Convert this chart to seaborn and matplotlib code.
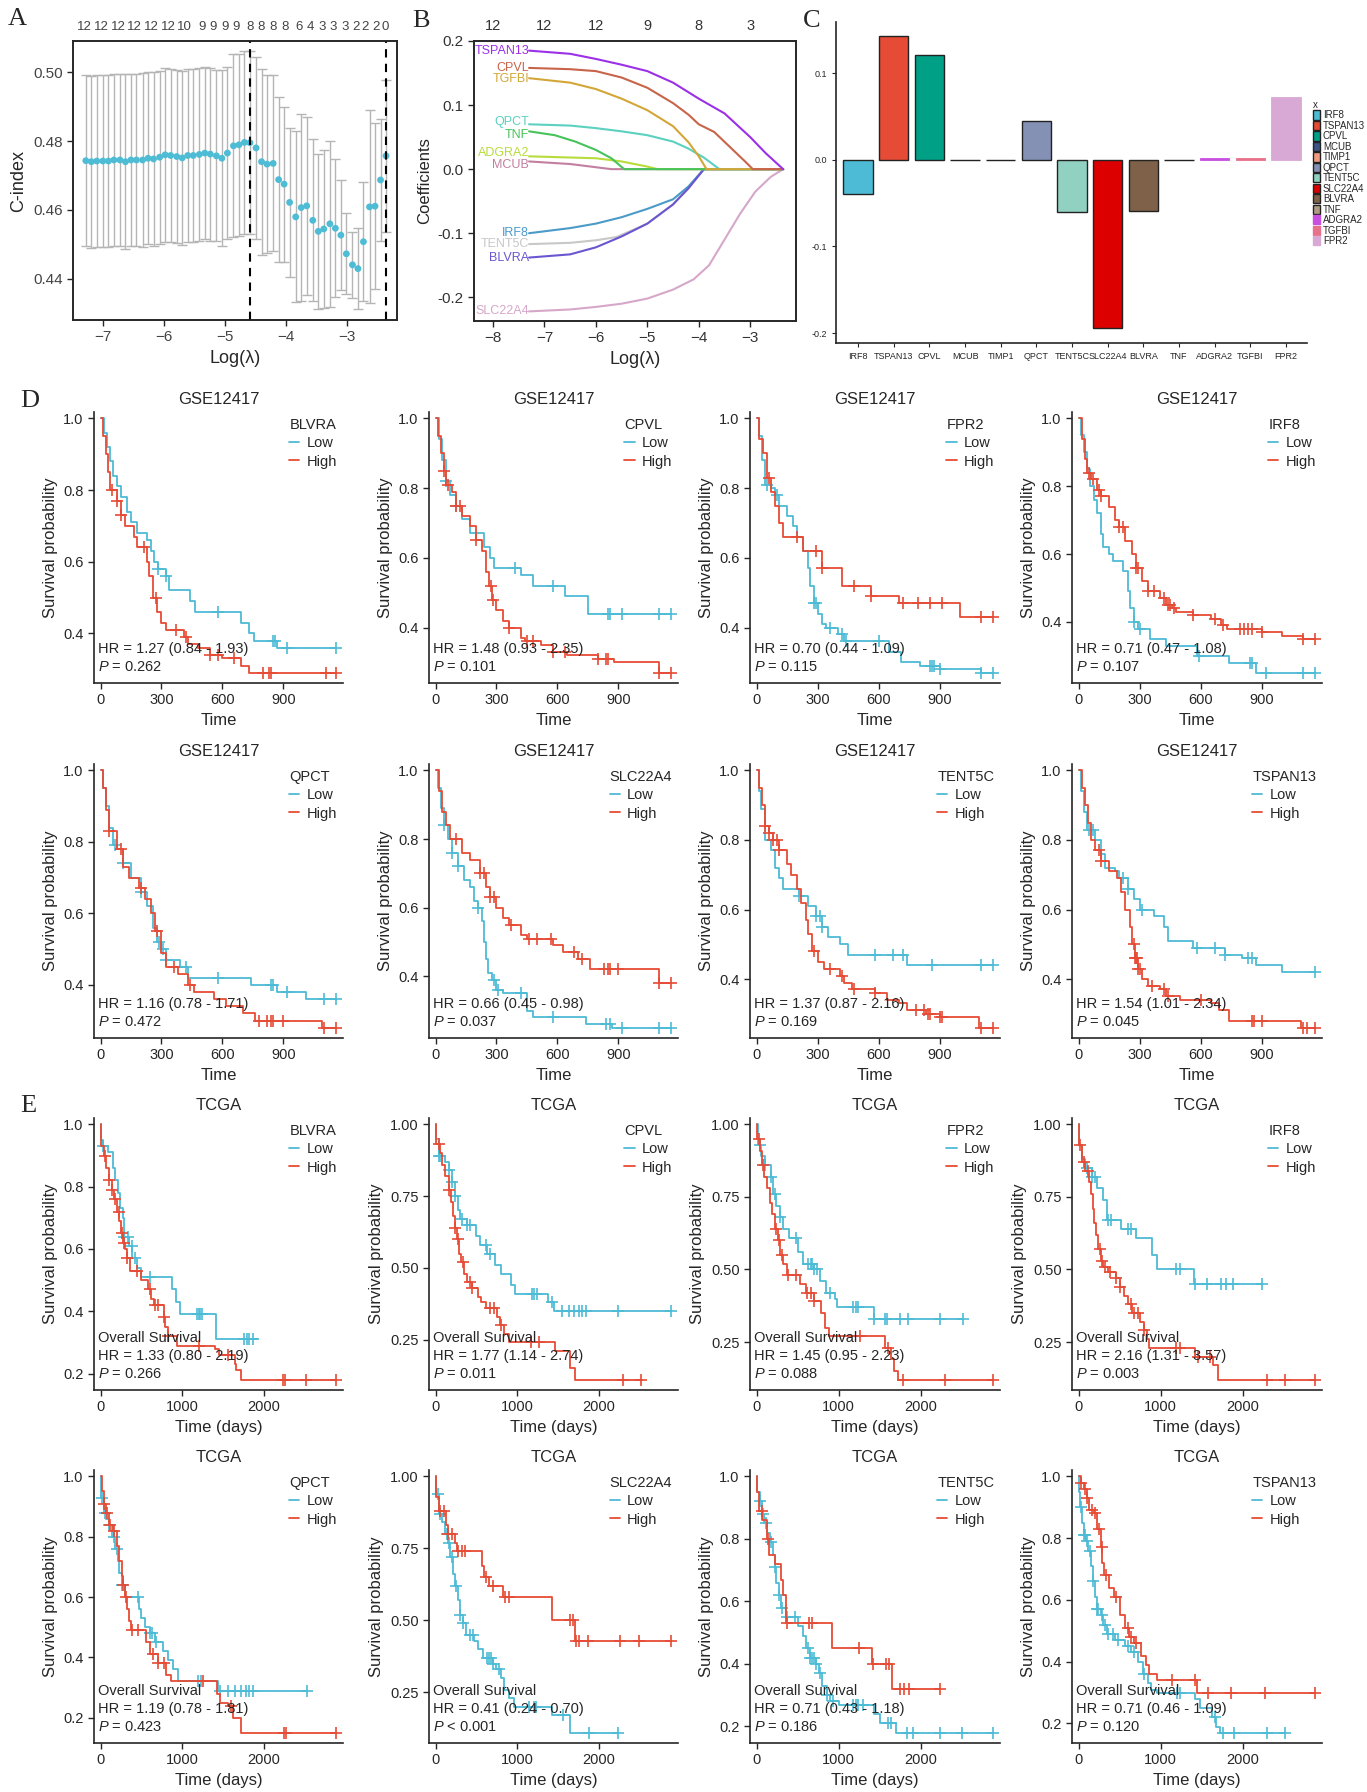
import matplotlib
matplotlib.use("Agg")
import matplotlib.pyplot as plt
import seaborn as sns
import numpy as np
import pandas as pd

# ---------------- panel A: cross-validated C-index ----------------
cv_loglam = [-7.28, -7.19, -7.10, -7.00, -6.91, -6.82, -6.72, -6.63, -6.54, -6.45,
             -6.35, -6.26, -6.17, -6.07, -5.98, -5.89, -5.79, -5.70, -5.61, -5.52,
             -5.42, -5.33, -5.24, -5.14, -5.05, -4.96, -4.86, -4.77, -4.68, -4.59,
             -4.49, -4.40, -4.31, -4.21, -4.12, -4.03, -3.94, -3.84, -3.75, -3.66,
             -3.56, -3.47, -3.38, -3.28, -3.19, -3.10, -3.01, -2.91, -2.82, -2.73,
             -2.63, -2.54, -2.45, -2.36]
cv_cindex = [0.4743, 0.4740, 0.4742, 0.4742, 0.4742, 0.4745, 0.4745, 0.4740, 0.4745, 0.4745,
             0.4745, 0.4750, 0.4748, 0.4753, 0.4760, 0.4758, 0.4755, 0.4751, 0.4758, 0.4758,
             0.4761, 0.4765, 0.4762, 0.4757, 0.4750, 0.4765, 0.4786, 0.4789, 0.4796, 0.4795,
             0.4780, 0.4740, 0.4733, 0.4735, 0.4688, 0.4675, 0.4622, 0.4580, 0.4607, 0.4612,
             0.4570, 0.4538, 0.4545, 0.4560, 0.4547, 0.4527, 0.4473, 0.4441, 0.4430, 0.4508,
             0.4609, 0.4611, 0.4687, 0.4757]
cv_se = [0.0248, 0.0249, 0.0248, 0.0248, 0.0248, 0.0249, 0.0250, 0.0253, 0.0250, 0.0250,
         0.0252, 0.0250, 0.0251, 0.0251, 0.0252, 0.0251, 0.0251, 0.0252, 0.0252, 0.0250,
         0.0250, 0.0250, 0.0251, 0.0248, 0.0255, 0.0250, 0.0265, 0.0263, 0.0265, 0.0265,
         0.0265, 0.0270, 0.0258, 0.0255, 0.0240, 0.0225, 0.0215, 0.0248, 0.0270, 0.0258,
         0.0235, 0.0225, 0.0230, 0.0240, 0.0200, 0.0160, 0.0118, 0.0095, 0.0118, 0.0173,
         0.0280, 0.0240, 0.0178, 0.0220]
lam_min, lam_1se = -4.59, -2.36
top_counts = ["12", "12", "12", "12", "12", "12", "10", "9", "9", "9", "9", "8", "8", "8", "8",
              "6", "4", "3", "3", "3", "2", "2", "2", "0"]
top_count_pos = [-7.30, -7.03, -6.75, -6.48, -6.21, -5.93, -5.66, -5.38, -5.19, -5.00, -4.81,
                 -4.59, -4.40, -4.21, -4.01, -3.79, -3.60, -3.41, -3.22, -3.03, -2.86, -2.70,
                 -2.53, -2.37]

# ---------------- panel B: coefficient paths ----------------
path_tspan13 = [(-7.3, 0.185), (-6.5, 0.180), (-6.0, 0.172), (-5.5, 0.163), (-5.0, 0.153),
                (-4.5, 0.135), (-4.0, 0.110), (-3.5, 0.087), (-3.0, 0.050), (-2.7, 0.025), (-2.36, 0.0)]
path_cpvl = [(-7.3, 0.158), (-6.5, 0.156), (-6.0, 0.153), (-5.5, 0.143), (-5.0, 0.127), (-4.5, 0.103),
             (-4.2, 0.085), (-4.0, 0.070), (-3.7, 0.058), (-3.4, 0.035), (-3.1, 0.012), (-2.95, 0.0), (-2.36, 0.0)]
path_tgfbi = [(-7.3, 0.142), (-6.5, 0.135), (-6.0, 0.125), (-5.5, 0.110), (-5.0, 0.092), (-4.5, 0.067),
              (-4.2, 0.042), (-4.0, 0.020), (-3.85, 0.0), (-2.36, 0.0)]
path_qpct = [(-7.3, 0.070), (-6.5, 0.068), (-6.0, 0.064), (-5.5, 0.059), (-5.0, 0.053), (-4.5, 0.043),
             (-4.2, 0.032), (-3.9, 0.018), (-3.6, 0.0), (-2.36, 0.0)]
path_tnf = [(-7.3, 0.059), (-6.8, 0.053), (-6.4, 0.043), (-6.0, 0.030), (-5.7, 0.017), (-5.45, 0.0), (-2.36, 0.0)]
path_adgra2 = [(-7.3, 0.020), (-6.0, 0.017), (-5.5, 0.012), (-5.0, 0.004), (-4.8, 0.0), (-2.36, 0.0)]
path_mcub = [(-7.3, 0.012), (-6.5, 0.008), (-6.0, 0.003), (-5.7, 0.0), (-2.36, 0.0)]
path_irf8 = [(-7.3, -0.100), (-6.5, -0.092), (-6.0, -0.085), (-5.5, -0.075), (-5.0, -0.062), (-4.5, -0.047),
             (-4.2, -0.027), (-3.9, 0.0), (-2.36, 0.0)]
path_tent5c = [(-7.3, -0.117), (-6.5, -0.115), (-6.0, -0.111), (-5.6, -0.106), (-5.0, -0.085), (-4.5, -0.055),
               (-3.9, 0.0), (-2.36, 0.0)]
path_blvra = [(-7.3, -0.138), (-6.5, -0.133), (-6.0, -0.122), (-5.5, -0.105), (-5.0, -0.085), (-4.5, -0.055),
              (-4.2, -0.030), (-3.9, 0.0), (-2.36, 0.0)]
path_slc22a4 = [(-7.3, -0.222), (-6.5, -0.219), (-6.0, -0.215), (-5.5, -0.210), (-5.0, -0.202), (-4.5, -0.188),
                (-4.1, -0.172), (-3.8, -0.150), (-3.5, -0.110), (-3.2, -0.070), (-2.9, -0.035), (-2.6, -0.012),
                (-2.36, 0.0)]
path_genes = ["SLC22A4", "TENT5C", "IRF8", "BLVRA", "MCUB", "ADGRA2", "TNF", "QPCT", "TGFBI", "CPVL", "TSPAN13"]
path_colors = ["#d6a7c9", "#c8c8c8", "#4b9ac8", "#6b55d0", "#c27fa0", "#b8dc3c", "#46c35a", "#5bd1c0",
               "#d4a638", "#c8644a", "#9b30e6"]
# small vertical nudges so crowded labels stay readable
path_label_nudge = {"QPCT": 0.004, "TNF": -0.005, "ADGRA2": 0.005, "MCUB": -0.006, "TGFBI": -0.002}
path_top_pos = [-8, -7, -6, -5, -4, -3]
path_top_lab = ["12", "12", "12", "9", "8", "3"]

# ---------------- panel C: coefficients ----------------
genes_c = ["IRF8", "TSPAN13", "CPVL", "MCUB", "TIMP1", "QPCT", "TENT5C", "SLC22A4", "BLVRA", "TNF",
           "ADGRA2", "TGFBI", "FPR2"]
coef_c = [-0.040, 0.143, 0.121, 0.0, 0.0, 0.045, -0.060, -0.194, -0.059, 0.0, 0.0015, 0.0015, 0.073]
colors_c = ["#4DBBD5", "#E64B35", "#00A087", "#3C5488", "#F39B7F", "#8491B4", "#91D1C2", "#DC0000",
            "#7E6148", "#B09C85", "#C84FE0", "#E8708A", "#D9A9D6"]

# ---------------- panel D: GSE12417 KM curves (time, survival) ----------------
gse_blvra_low = [(0, 1.0), (15, 0.96), (30, 0.92), (45, 0.88), (60, 0.84), (80, 0.81), (100, 0.78), (130, 0.74),
                 (150, 0.71), (180, 0.68), (230, 0.66), (250, 0.63), (265, 0.60), (285, 0.58), (320, 0.56),
                 (335, 0.52), (440, 0.49), (465, 0.46), (690, 0.43), (730, 0.40), (755, 0.38), (870, 0.36),
                 (1160, 0.36)]
gse_blvra_low_c = [285, 320, 580, 850, 860, 920, 1160]
gse_blvra_high = [(0, 1.0), (10, 0.95), (25, 0.90), (35, 0.85), (45, 0.80), (80, 0.77), (100, 0.73), (120, 0.70),
                  (165, 0.67), (180, 0.64), (230, 0.60), (240, 0.56), (260, 0.50), (280, 0.46), (300, 0.43),
                  (320, 0.41), (410, 0.39), (430, 0.37), (480, 0.36), (540, 0.34), (600, 0.33), (690, 0.31),
                  (730, 0.29), (1160, 0.29)]
gse_blvra_high_c = [55, 80, 100, 215, 275, 370, 420, 540, 580, 660, 800, 830, 840, 1110, 1160]

gse_cpvl_low = [(0, 1.0), (15, 0.94), (30, 0.88), (50, 0.82), (70, 0.78), (100, 0.75), (130, 0.71), (170, 0.67),
                (240, 0.63), (270, 0.60), (290, 0.57), (420, 0.55), (480, 0.52), (640, 0.49), (750, 0.44),
                (1160, 0.44)]
gse_cpvl_low_c = [50, 100, 390, 580, 850, 860, 920, 1100, 1160]
gse_cpvl_high = [(0, 1.0), (10, 0.95), (25, 0.90), (40, 0.85), (50, 0.81), (80, 0.79), (100, 0.75), (130, 0.72),
                 (170, 0.69), (200, 0.65), (230, 0.62), (250, 0.56), (265, 0.52), (280, 0.48), (300, 0.45),
                 (330, 0.42), (360, 0.40), (420, 0.37), (440, 0.36), (520, 0.35), (580, 0.33), (650, 0.32),
                 (800, 0.31), (880, 0.30), (1100, 0.27), (1160, 0.27)]
gse_cpvl_high_c = [40, 60, 100, 120, 200, 275, 285, 360, 450, 480, 580, 640, 800, 840, 850, 1100, 1160]

gse_fpr2_low = [(0, 1.0), (10, 0.95), (25, 0.88), (40, 0.81), (70, 0.80), (90, 0.78), (110, 0.75), (150, 0.72),
                (180, 0.69), (200, 0.66), (230, 0.62), (250, 0.57), (260, 0.52), (280, 0.47), (300, 0.44),
                (320, 0.41), (340, 0.40), (400, 0.38), (430, 0.36), (650, 0.33), (710, 0.30), (800, 0.29),
                (900, 0.28), (1100, 0.27), (1160, 0.27)]
gse_fpr2_low_c = [50, 100, 280, 290, 360, 420, 440, 600, 850, 860, 870, 900, 1100, 1160]
gse_fpr2_high = [(0, 1.0), (10, 0.94), (30, 0.90), (50, 0.83), (70, 0.79), (90, 0.75), (110, 0.70), (130, 0.66),
                 (230, 0.62), (320, 0.57), (420, 0.52), (560, 0.49), (700, 0.47), (1000, 0.43), (1160, 0.43)]
gse_fpr2_high_c = [60, 200, 290, 320, 480, 560, 720, 790, 850, 910, 1100, 1160]

gse_irf8_low = [(0, 1.0), (10, 0.95), (25, 0.90), (40, 0.85), (55, 0.80), (75, 0.76), (90, 0.72), (110, 0.66),
                (120, 0.62), (150, 0.60), (170, 0.58), (220, 0.55), (240, 0.49), (250, 0.44), (270, 0.40),
                (290, 0.38), (350, 0.35), (430, 0.33), (580, 0.30), (740, 0.28), (870, 0.25), (1160, 0.25)]
gse_irf8_low_c = [270, 300, 590, 840, 850, 920, 1100, 1160]
gse_irf8_high = [(0, 1.0), (15, 0.94), (30, 0.88), (40, 0.84), (60, 0.82), (90, 0.79), (110, 0.77), (150, 0.74),
                 (180, 0.70), (200, 0.68), (230, 0.64), (260, 0.60), (280, 0.56), (310, 0.52), (340, 0.49),
                 (400, 0.47), (430, 0.45), (460, 0.44), (480, 0.43), (560, 0.42), (650, 0.41), (700, 0.39),
                 (730, 0.38), (900, 0.37), (1000, 0.36), (1100, 0.35), (1160, 0.35)]
gse_irf8_high_c = [50, 70, 100, 110, 200, 220, 280, 290, 340, 370, 420, 440, 450, 470, 560, 670, 710, 790, 810,
                   830, 850, 900, 1100, 1160]

gse_qpct_low = [(0, 1.0), (10, 0.95), (25, 0.90), (40, 0.84), (60, 0.79), (80, 0.78), (110, 0.74), (150, 0.70),
                (200, 0.66), (230, 0.62), (260, 0.56), (280, 0.52), (300, 0.50), (320, 0.47), (390, 0.45),
                (430, 0.42), (740, 0.40), (870, 0.38), (1010, 0.36), (1160, 0.36)]
gse_qpct_low_c = [70, 110, 200, 290, 310, 320, 420, 580, 840, 850, 920, 1100, 1160]
gse_qpct_high = [(0, 1.0), (10, 0.95), (25, 0.89), (40, 0.83), (80, 0.78), (110, 0.73), (140, 0.70), (190, 0.67),
                 (220, 0.64), (250, 0.60), (270, 0.55), (300, 0.49), (320, 0.45), (380, 0.43), (430, 0.40),
                 (460, 0.38), (560, 0.36), (620, 0.34), (700, 0.32), (760, 0.30), (1090, 0.28), (1160, 0.28)]
gse_qpct_high_c = [40, 100, 200, 280, 360, 440, 780, 820, 840, 850, 900, 1100, 1160]

gse_slc22a4_low = [(0, 1.0), (10, 0.95), (25, 0.89), (40, 0.84), (60, 0.80), (80, 0.76), (110, 0.72), (140, 0.68),
                   (170, 0.66), (190, 0.62), (210, 0.60), (230, 0.56), (240, 0.50), (250, 0.45), (260, 0.41),
                   (280, 0.39), (300, 0.36), (330, 0.35), (450, 0.30), (480, 0.28), (740, 0.26), (870, 0.25),
                   (1160, 0.25)]
gse_slc22a4_low_c = [40, 80, 110, 210, 290, 310, 420, 580, 840, 860, 920, 1100, 1160]
gse_slc22a4_high = [(0, 1.0), (15, 0.94), (30, 0.88), (50, 0.84), (70, 0.80), (130, 0.76), (170, 0.74),
                    (220, 0.70), (250, 0.66), (270, 0.63), (300, 0.60), (330, 0.57), (360, 0.55), (420, 0.52),
                    (450, 0.51), (580, 0.49), (630, 0.47), (700, 0.45), (760, 0.42), (1100, 0.38), (1160, 0.38)]
gse_slc22a4_high_c = [100, 220, 240, 270, 290, 370, 460, 500, 570, 680, 720, 830, 850, 860, 900, 1100, 1160]

gse_tent5c_low = [(0, 1.0), (10, 0.94), (20, 0.89), (40, 0.80), (70, 0.77), (90, 0.72), (110, 0.69), (130, 0.66),
                  (210, 0.64), (250, 0.61), (290, 0.58), (320, 0.55), (350, 0.52), (410, 0.50), (450, 0.47),
                  (740, 0.44), (1160, 0.44)]
gse_tent5c_low_c = [210, 290, 310, 320, 580, 670, 720, 860, 1100, 1160]
gse_tent5c_high = [(0, 1.0), (10, 0.95), (25, 0.90), (40, 0.84), (60, 0.82), (80, 0.80), (110, 0.77), (150, 0.73),
                   (170, 0.70), (200, 0.66), (220, 0.62), (240, 0.57), (250, 0.53), (270, 0.48), (300, 0.45),
                   (330, 0.43), (410, 0.41), (430, 0.39), (470, 0.37), (580, 0.36), (640, 0.34), (700, 0.33),
                   (740, 0.31), (830, 0.30), (900, 0.29), (1090, 0.26), (1160, 0.26)]
gse_tent5c_high_c = [40, 60, 80, 100, 110, 280, 360, 420, 480, 580, 780, 820, 840, 850, 900, 910, 1100, 1160]

gse_tspan13_low = [(0, 1.0), (10, 0.94), (25, 0.88), (40, 0.83), (80, 0.80), (110, 0.76), (130, 0.72),
                   (180, 0.71), (200, 0.69), (240, 0.66), (270, 0.63), (300, 0.60), (370, 0.58), (420, 0.55),
                   (440, 0.51), (560, 0.49), (720, 0.47), (800, 0.46), (870, 0.44), (1000, 0.42), (1160, 0.42)]
gse_tspan13_low_c = [50, 70, 220, 240, 310, 580, 670, 720, 830, 850, 1160]
gse_tspan13_high = [(0, 1.0), (15, 0.95), (30, 0.90), (45, 0.85), (60, 0.80), (80, 0.77), (110, 0.74),
                    (150, 0.71), (190, 0.69), (210, 0.65), (230, 0.60), (250, 0.55), (260, 0.50), (275, 0.46),
                    (290, 0.43), (310, 0.40), (340, 0.38), (400, 0.37), (430, 0.35), (500, 0.34), (650, 0.33),
                    (690, 0.31), (740, 0.28), (1090, 0.26), (1160, 0.26)]
gse_tspan13_high_c = [100, 110, 270, 275, 280, 285, 290, 300, 360, 420, 440, 600, 850, 860, 900, 1100, 1120, 1160]

# ---------------- panel E: TCGA KM curves (time, survival) ----------------
tcga_blvra_low = [(0, 1.0), (10, 0.95), (30, 0.93), (90, 0.91), (150, 0.86), (180, 0.82), (210, 0.78),
                  (240, 0.73), (270, 0.70), (290, 0.64), (350, 0.61), (390, 0.57), (450, 0.54), (500, 0.51),
                  (870, 0.47), (920, 0.43), (970, 0.39), (1410, 0.31), (1920, 0.31)]
tcga_blvra_low_c = [30, 290, 340, 380, 420, 600, 1180, 1200, 1220, 1240, 1750, 1790, 1820, 1860]
tcga_blvra_high = [(0, 1.0), (10, 0.93), (40, 0.90), (70, 0.86), (100, 0.82), (140, 0.79), (170, 0.76),
                   (200, 0.72), (230, 0.69), (250, 0.65), (280, 0.62), (300, 0.60), (320, 0.57), (360, 0.53),
                   (500, 0.50), (580, 0.47), (620, 0.44), (650, 0.42), (770, 0.38), (790, 0.35), (830, 0.32),
                   (930, 0.29), (1400, 0.28), (1450, 0.26), (1640, 0.23), (1660, 0.21), (1720, 0.18), (2880, 0.18)]
tcga_blvra_high_c = [50, 100, 140, 180, 220, 260, 290, 320, 450, 610, 660, 700, 770, 830, 1210, 1560, 2230,
                     2260, 2510, 2880]

tcga_cpvl_low = [(0, 1.0), (10, 0.95), (40, 0.89), (110, 0.87), (160, 0.84), (200, 0.80), (240, 0.75),
                 (280, 0.70), (300, 0.67), (380, 0.65), (500, 0.61), (540, 0.58), (630, 0.55), (730, 0.51),
                 (800, 0.48), (920, 0.44), (970, 0.41), (1380, 0.38), (1450, 0.35), (2880, 0.35)]
tcga_cpvl_low_c = [40, 60, 160, 200, 240, 320, 380, 420, 620, 660, 1180, 1210, 1240, 1420, 1550, 1630, 1690,
                   1750, 1790, 1840, 2230, 2880]
tcga_cpvl_high = [(0, 1.0), (10, 0.93), (50, 0.90), (80, 0.86), (120, 0.82), (160, 0.77), (190, 0.73),
                  (210, 0.68), (240, 0.64), (260, 0.60), (290, 0.55), (310, 0.52), (350, 0.48), (380, 0.45),
                  (450, 0.43), (520, 0.40), (560, 0.38), (620, 0.36), (750, 0.33), (790, 0.30), (840, 0.27),
                  (900, 0.24), (1460, 0.21), (1640, 0.15), (1700, 0.11), (2520, 0.11)]
tcga_cpvl_high_c = [40, 160, 240, 270, 330, 420, 450, 660, 710, 800, 1170, 1260, 2290, 2510]

tcga_fpr2_low = [(0, 1.0), (20, 0.93), (50, 0.89), (100, 0.86), (170, 0.82), (200, 0.76), (240, 0.72),
                 (280, 0.68), (320, 0.64), (400, 0.61), (500, 0.56), (570, 0.52), (700, 0.50), (770, 0.46),
                 (850, 0.42), (950, 0.40), (980, 0.37), (1430, 0.33), (2520, 0.33)]
tcga_fpr2_low_c = [40, 100, 180, 220, 280, 480, 630, 660, 680, 700, 730, 900, 1180, 1210, 1230, 1430, 1570,
                   1590, 1750, 1850, 2230, 2510]
tcga_fpr2_high = [(0, 1.0), (10, 0.95), (40, 0.91), (60, 0.86), (90, 0.82), (130, 0.78), (160, 0.73),
                  (190, 0.69), (230, 0.64), (260, 0.60), (290, 0.55), (320, 0.52), (370, 0.48), (530, 0.45),
                  (600, 0.42), (700, 0.39), (780, 0.35), (830, 0.30), (880, 0.27), (1560, 0.23), (1640, 0.19),
                  (1680, 0.15), (1720, 0.12), (2880, 0.12)]
tcga_fpr2_high_c = [30, 80, 240, 270, 310, 380, 480, 620, 660, 700, 1260, 1600, 1780, 2290, 2880]

tcga_irf8_low = [(0, 1.0), (10, 0.93), (40, 0.88), (80, 0.85), (160, 0.82), (230, 0.78), (300, 0.74),
                 (340, 0.67), (520, 0.64), (700, 0.61), (900, 0.55), (960, 0.50), (1410, 0.45), (2230, 0.45)]
tcga_irf8_low_c = [100, 160, 200, 360, 400, 600, 640, 1190, 1240, 1420, 1560, 1740, 1800, 1880, 2230]
tcga_irf8_high = [(0, 1.0), (10, 0.93), (40, 0.87), (80, 0.84), (130, 0.80), (150, 0.76), (170, 0.71),
                  (190, 0.66), (210, 0.62), (240, 0.57), (270, 0.53), (300, 0.51), (360, 0.49), (450, 0.47),
                  (500, 0.44), (550, 0.41), (600, 0.38), (650, 0.35), (750, 0.32), (800, 0.29), (830, 0.26),
                  (860, 0.23), (1420, 0.20), (1640, 0.17), (1700, 0.12), (2880, 0.12)]
tcga_irf8_high_c = [20, 60, 120, 260, 280, 320, 380, 450, 500, 640, 680, 720, 800, 1190, 1240, 1450, 1600,
                    2290, 2510, 2880]

tcga_qpct_low = [(0, 1.0), (10, 0.93), (40, 0.88), (70, 0.86), (100, 0.84), (140, 0.80), (180, 0.76),
                 (210, 0.72), (230, 0.68), (260, 0.64), (300, 0.60), (470, 0.56), (500, 0.53), (540, 0.50),
                 (600, 0.48), (660, 0.45), (760, 0.42), (820, 0.39), (880, 0.36), (950, 0.32), (1440, 0.29),
                 (2520, 0.29)]
tcga_qpct_low_c = [20, 60, 100, 160, 200, 260, 460, 600, 630, 680, 1190, 1230, 1460, 1560, 1650, 1720, 1780,
                   1820, 1860, 2520]
tcga_qpct_high = [(0, 1.0), (20, 0.95), (40, 0.91), (70, 0.88), (100, 0.84), (150, 0.82), (200, 0.77),
                  (230, 0.72), (260, 0.67), (280, 0.64), (300, 0.60), (320, 0.56), (350, 0.52), (370, 0.49),
                  (560, 0.45), (600, 0.41), (700, 0.38), (800, 0.34), (860, 0.32), (1420, 0.28), (1460, 0.25),
                  (1560, 0.24), (1620, 0.20), (1720, 0.15), (2880, 0.15)]
tcga_qpct_high_c = [40, 80, 120, 170, 280, 310, 380, 460, 640, 700, 780, 1250, 1600, 2240, 2270, 2880]

tcga_slc22a4_low = [(0, 1.0), (10, 0.94), (40, 0.87), (80, 0.84), (120, 0.80), (150, 0.77), (180, 0.72),
                    (210, 0.66), (240, 0.62), (270, 0.57), (300, 0.52), (340, 0.49), (370, 0.45), (470, 0.43),
                    (520, 0.40), (580, 0.37), (700, 0.35), (740, 0.33), (800, 0.30), (840, 0.26), (900, 0.23),
                    (960, 0.20), (1430, 0.17), (1650, 0.11), (2230, 0.11)]
tcga_slc22a4_low_c = [30, 60, 140, 170, 200, 250, 300, 340, 420, 460, 630, 650, 680, 700, 780, 1140, 1200,
                      1230, 1560, 1880, 2230]
tcga_slc22a4_high = [(0, 1.0), (10, 0.93), (40, 0.88), (130, 0.83), (150, 0.80), (240, 0.77), (260, 0.74),
                     (570, 0.69), (590, 0.65), (650, 0.62), (820, 0.58), (1420, 0.50), (1700, 0.43), (2880, 0.43)]
tcga_slc22a4_high_c = [60, 100, 150, 200, 280, 320, 360, 620, 700, 850, 900, 1640, 1680, 1720, 1760, 1860,
                       2260, 2490, 2880]

tcga_tent5c_low = [(0, 1.0), (10, 0.95), (40, 0.92), (60, 0.88), (90, 0.85), (130, 0.82), (160, 0.79),
                   (200, 0.75), (220, 0.71), (240, 0.66), (270, 0.62), (300, 0.58), (360, 0.55), (500, 0.52),
                   (560, 0.49), (600, 0.45), (650, 0.42), (720, 0.40), (760, 0.37), (800, 0.33), (860, 0.30),
                   (900, 0.28), (1000, 0.27), (1430, 0.24), (1500, 0.21), (1700, 0.18), (2880, 0.18)]
tcga_tent5c_low_c = [40, 80, 120, 180, 220, 270, 310, 370, 470, 630, 650, 680, 700, 720, 770, 860, 930, 1170,
                     1210, 1240, 1300, 1600, 1640, 1830, 1900, 2240, 2500, 2880]
tcga_tent5c_high = [(0, 1.0), (10, 0.95), (30, 0.89), (70, 0.86), (130, 0.80), (150, 0.75), (230, 0.72),
                    (300, 0.67), (320, 0.62), (360, 0.53), (920, 0.45), (1405, 0.40), (1650, 0.32), (2230, 0.32)]
tcga_tent5c_high_c = [60, 140, 370, 640, 680, 1250, 1420, 1580, 1610, 1750, 1800, 1860, 2230]

tcga_tspan13_low = [(0, 1.0), (10, 0.95), (20, 0.90), (40, 0.85), (60, 0.81), (90, 0.79), (120, 0.76),
                    (150, 0.71), (180, 0.66), (200, 0.61), (220, 0.57), (270, 0.55), (300, 0.52), (340, 0.49),
                    (440, 0.47), (560, 0.45), (640, 0.43), (720, 0.40), (780, 0.36), (840, 0.33), (880, 0.31),
                    (960, 0.30), (1420, 0.28), (1480, 0.25), (1630, 0.22), (1680, 0.19), (1720, 0.17),
                    (2520, 0.17)]
tcga_tspan13_low_c = [30, 60, 80, 100, 140, 180, 220, 240, 280, 320, 360, 420, 480, 600, 680, 800, 1200, 1240,
                      1660, 1760, 1890, 2300, 2520]
tcga_tspan13_high = [(0, 1.0), (30, 0.98), (60, 0.96), (100, 0.93), (130, 0.89), (190, 0.88), (220, 0.83),
                     (270, 0.77), (290, 0.72), (310, 0.68), (370, 0.64), (430, 0.61), (500, 0.55), (570, 0.51),
                     (610, 0.48), (680, 0.46), (760, 0.42), (820, 0.39), (860, 0.36), (950, 0.34), (1440, 0.30),
                     (2880, 0.30)]
tcga_tspan13_high_c = [30, 80, 100, 160, 200, 250, 280, 330, 450, 600, 640, 700, 1140, 1420, 1580, 1860, 2270,
                       2880]

# gene, low, low censored, high, high censored, HR text, P text
gse_panels = [
    ("BLVRA", gse_blvra_low, gse_blvra_low_c, gse_blvra_high, gse_blvra_high_c, "1.27 (0.84 - 1.93)", "= 0.262"),
    ("CPVL", gse_cpvl_low, gse_cpvl_low_c, gse_cpvl_high, gse_cpvl_high_c, "1.48 (0.93 - 2.35)", "= 0.101"),
    ("FPR2", gse_fpr2_low, gse_fpr2_low_c, gse_fpr2_high, gse_fpr2_high_c, "0.70 (0.44 - 1.09)", "= 0.115"),
    ("IRF8", gse_irf8_low, gse_irf8_low_c, gse_irf8_high, gse_irf8_high_c, "0.71 (0.47 - 1.08)", "= 0.107"),
    ("QPCT", gse_qpct_low, gse_qpct_low_c, gse_qpct_high, gse_qpct_high_c, "1.16 (0.78 - 1.71)", "= 0.472"),
    ("SLC22A4", gse_slc22a4_low, gse_slc22a4_low_c, gse_slc22a4_high, gse_slc22a4_high_c, "0.66 (0.45 - 0.98)", "= 0.037"),
    ("TENT5C", gse_tent5c_low, gse_tent5c_low_c, gse_tent5c_high, gse_tent5c_high_c, "1.37 (0.87 - 2.16)", "= 0.169"),
    ("TSPAN13", gse_tspan13_low, gse_tspan13_low_c, gse_tspan13_high, gse_tspan13_high_c, "1.54 (1.01 - 2.34)", "= 0.045"),
]
tcga_panels = [
    ("BLVRA", tcga_blvra_low, tcga_blvra_low_c, tcga_blvra_high, tcga_blvra_high_c, "1.33 (0.80 - 2.19)", "= 0.266"),
    ("CPVL", tcga_cpvl_low, tcga_cpvl_low_c, tcga_cpvl_high, tcga_cpvl_high_c, "1.77 (1.14 - 2.74)", "= 0.011"),
    ("FPR2", tcga_fpr2_low, tcga_fpr2_low_c, tcga_fpr2_high, tcga_fpr2_high_c, "1.45 (0.95 - 2.23)", "= 0.088"),
    ("IRF8", tcga_irf8_low, tcga_irf8_low_c, tcga_irf8_high, tcga_irf8_high_c, "2.16 (1.31 - 3.57)", "= 0.003"),
    ("QPCT", tcga_qpct_low, tcga_qpct_low_c, tcga_qpct_high, tcga_qpct_high_c, "1.19 (0.78 - 1.81)", "= 0.423"),
    ("SLC22A4", tcga_slc22a4_low, tcga_slc22a4_low_c, tcga_slc22a4_high, tcga_slc22a4_high_c, "0.41 (0.24 - 0.70)", "< 0.001"),
    ("TENT5C", tcga_tent5c_low, tcga_tent5c_low_c, tcga_tent5c_high, tcga_tent5c_high_c, "0.71 (0.43 - 1.18)", "= 0.186"),
    ("TSPAN13", tcga_tspan13_low, tcga_tspan13_low_c, tcga_tspan13_high, tcga_tspan13_high_c, "0.71 (0.46 - 1.09)", "= 0.120"),
]
tcga_quarter_ticks = ["CPVL", "FPR2", "IRF8", "SLC22A4"]

LOW_COL = "#4DBBD5"
HIGH_COL = "#E64B35"

sns.set_style("ticks")
plt.rcParams["font.family"] = ["Liberation Sans", "DejaVu Sans"]
plt.rcParams["mathtext.fontset"] = "custom"
plt.rcParams["mathtext.it"] = "Liberation Sans:italic"
plt.rcParams["mathtext.rm"] = "Liberation Sans"
plt.rcParams["axes.linewidth"] = 1.2

W, H = 1367, 1792
fig = plt.figure(figsize=(W / 100, H / 100), dpi=100)


def box(l, t, r, b):
    return fig.add_axes([l / W, 1 - b / H, (r - l) / W, (b - t) / H])


def step_value(curve, t):
    val = curve[0][1]
    for ct, cs in curve:
        if ct <= t:
            val = cs
    return val


def letter(x, y, s):
    fig.text(x / W, 1 - y / H, s, fontsize=19, family="Liberation Serif", va="top", ha="left")


# ---------- A ----------
axA = box(73, 41, 397, 320)
axA.errorbar(cv_loglam, cv_cindex, yerr=cv_se, fmt="none", ecolor="#b5b5b5", elinewidth=1.0,
             capsize=3.5, capthick=1.0, zorder=1)
sns.scatterplot(x=cv_loglam, y=cv_cindex, ax=axA, color="#4dbcd4", s=24, edgecolor="none", zorder=3)
for v in (lam_min, lam_1se):
    axA.axvline(v, color="black", ls=(0, (4, 3)), lw=1.5, zorder=4)
axA.set_xlim(-7.49, -2.18)
axA.set_ylim(0.4281, 0.5090)
axA.set_xticks([-7, -6, -5, -4, -3])
axA.set_yticks([0.44, 0.46, 0.48, 0.50])
axA.set_yticklabels(["0.44", "0.46", "0.48", "0.50"])
axA.tick_params(labelsize=11, labelcolor="#444444", length=4, width=1)
axA.set_xlabel("Log(λ)", fontsize=13)
axA.set_ylabel("C-index", fontsize=13)
axA2 = axA.twiny()
axA2.set_xlim(axA.get_xlim())
axA2.set_xticks(top_count_pos)
axA2.set_xticklabels(top_counts)
axA2.tick_params(length=0, labelsize=9.5, labelcolor="#444444", pad=6)

# ---------- B ----------
axB = box(474, 41, 796, 321)
for g, col in zip(path_genes, path_colors):
    path = globals()["path_" + g.lower()]
    df = pd.DataFrame(path, columns=["loglam", "coef"])
    sns.lineplot(data=df, x="loglam", y="coef", ax=axB, color=col, lw=1.5, estimator=None, sort=False)
    axB.text(-7.3, path[0][1] + path_label_nudge.get(g, 0.0), g, color=col, fontsize=9,
             ha="right", va="center")
axB.set_xlim(-8.37, -2.11)
axB.set_ylim(-0.237, 0.2)
axB.set_xticks([-8, -7, -6, -5, -4, -3])
axB.set_yticks([-0.2, -0.1, 0.0, 0.1, 0.2])
axB.set_yticklabels(["-0.2", "-0.1", "0.0", "0.1", "0.2"])
axB.tick_params(labelsize=11, labelcolor="#333333", length=4, width=1)
axB.set_xlabel("Log(λ)", fontsize=13)
axB.set_ylabel("Coefficients", fontsize=12)
axB2 = axB.twiny()
axB2.set_xlim(axB.get_xlim())
axB2.set_xticks(path_top_pos)
axB2.set_xticklabels(path_top_lab)
axB2.tick_params(length=0, labelsize=10.5, labelcolor="#333333", pad=6)

# ---------- C ----------
axC = box(836, 22, 1307, 343)
dfc = pd.DataFrame({"gene": genes_c, "coef": coef_c})
sns.barplot(data=dfc, x="gene", y="coef", hue="gene", palette=colors_c, order=genes_c, hue_order=genes_c,
            ax=axC, width=0.82, legend=True, saturation=1)
for i, cont in enumerate(axC.containers):
    for p in cont:
        if i < 10:
            p.set_edgecolor("#222222")
            p.set_linewidth(1.0)
        else:
            p.set_edgecolor(colors_c[i])
            p.set_linewidth(0.6)
axC.set_xlim(-0.62, 12.59)
axC.set_ylim(-0.2115, 0.159)
axC.set_yticks([-0.2, -0.1, 0.0, 0.1])
axC.set_yticklabels(["-0.2", "-0.1", "0.0", "0.1"])
axC.set_xlabel("")
axC.set_ylabel("")
axC.tick_params(labelsize=6.5, length=3, width=0.8)
sns.despine(ax=axC)
leg = axC.legend(title="x", loc="upper left", bbox_to_anchor=(1.005, 0.77), frameon=False, fontsize=7,
                 title_fontsize=7, handlelength=0.7, handleheight=1.1, labelspacing=0.05, handletextpad=0.3,
                 borderaxespad=0, alignment="left")
for h, i in zip(leg.legend_handles, range(len(genes_c))):
    h.set_edgecolor("#222222" if i < 10 else colors_c[i])

# ---------- D & E: Kaplan-Meier ----------
cols = [(94, 343), (429, 678), (750, 1000), (1072, 1322)]
rows = [(412, 683), (764, 1038), (1118, 1390), (1470, 1743)]


def km_panel(ax, panel, title, tcga):
    gene, low, low_c, high, high_c, hr, pval = panel
    for curve, cens, col, lab in [(low, low_c, LOW_COL, "Low"), (high, high_c, HIGH_COL, "High")]:
        df = pd.DataFrame(curve, columns=["time", "surv"])
        sns.lineplot(data=df, x="time", y="surv", drawstyle="steps-post", color=col, lw=1.3, ax=ax,
                     label=lab, estimator=None)
        ax.plot(cens, [step_value(curve, t) for t in cens], ls="none", marker="+", ms=8, mew=1.2, color=col)
    tmax = 2880 if tcga else 1160
    smin = min(c[1] for c in low + high)
    ax.set_xlim(-0.028 * tmax, 1.03 * tmax)
    ax.set_ylim(smin - 0.04 * (1 - smin), 1 + 0.025 * (1 - smin))
    if tcga:
        ax.set_xticks([0, 1000, 2000])
        if gene in tcga_quarter_ticks:
            ax.set_yticks([0.25, 0.50, 0.75, 1.00])
            ax.set_yticklabels(["0.25", "0.50", "0.75", "1.00"])
        else:
            ax.set_yticks([0.2, 0.4, 0.6, 0.8, 1.0])
            ax.set_yticklabels(["0.2", "0.4", "0.6", "0.8", "1.0"])
        ax.set_xlabel("Time (days)", fontsize=12)
        ax.text(0.015, 0.19, "Overall Survival", transform=ax.transAxes, fontsize=10.5, va="center")
    else:
        ax.set_xticks([0, 300, 600, 900])
        ax.set_yticks([0.4, 0.6, 0.8, 1.0])
        ax.set_yticklabels(["0.4", "0.6", "0.8", "1.0"])
        ax.set_xlabel("Time", fontsize=12)
    ax.text(0.015, 0.125, "HR = " + hr, transform=ax.transAxes, fontsize=10.5, va="center")
    ax.text(0.015, 0.06, "$P$ " + pval, transform=ax.transAxes, fontsize=10.5, va="center")
    ax.set_ylabel("Survival probability", fontsize=12)
    ax.set_title(title, fontsize=12)
    ax.tick_params(labelsize=10.5, length=4, width=1)
    sns.despine(ax=ax)
    ax.legend(title=gene, loc="upper right", bbox_to_anchor=(1.0, 1.0), frameon=False, fontsize=10.5,
              title_fontsize=10.5, handlelength=0.7, handletextpad=0.5, labelspacing=0.3, borderaxespad=0,
              alignment="left")


for k, panel in enumerate(gse_panels):
    r, c = divmod(k, 4)
    ax = box(cols[c][0], rows[r][0], cols[c][1], rows[r][1])
    km_panel(ax, panel, "GSE12417", False)
for k, panel in enumerate(tcga_panels):
    r, c = divmod(k, 4)
    ax = box(cols[c][0], rows[r + 2][0], cols[c][1], rows[r + 2][1])
    km_panel(ax, panel, "TCGA", True)

letter(8, 8, "A")
letter(412, 10, "B")
letter(803, 10, "C")
letter(20, 390, "D")
letter(20, 1095, "E")

fig.savefig("out.png", dpi=100)
